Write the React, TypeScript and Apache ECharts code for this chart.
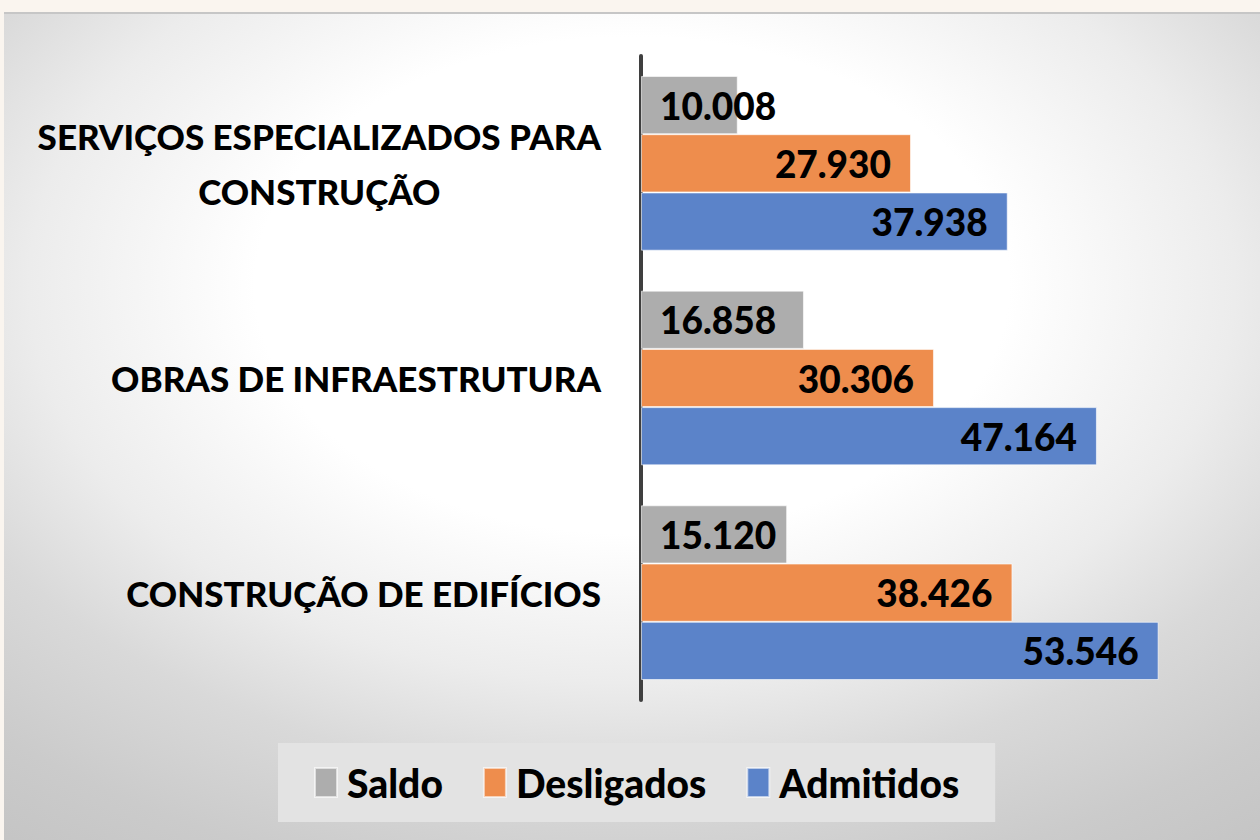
import React, { useEffect, useRef } from 'react';
import * as echarts from 'echarts';

// Categories listed bottom-to-top (category axis starts at the bottom)
const categories = [
  'CONSTRUÇÃO DE EDIFÍCIOS',
  'OBRAS DE INFRAESTRUTURA',
  'SERVIÇOS ESPECIALIZADOS PARA\nCONSTRUÇÃO',
];
const admitidos = [53546, 47164, 37938];
const desligados = [38426, 30306, 27930];
const saldo = [15120, 16858, 10008];
const legendOrder = ['Saldo', 'Desligados', 'Admitidos'];

const FONT = 'Lato, "Open Sans", sans-serif';
const fmt = (v: number) => String(v).replace(/\B(?=(\d{3})+(?!\d))/g, '.');

export default function App() {
  const ref = useRef<HTMLDivElement>(null);
  useEffect(() => {
    if (!ref.current) return;
    const chart = echarts.init(ref.current, null, { renderer: 'svg' });
    const barBorder = { borderColor: 'rgba(255,255,255,0.6)', borderWidth: 1 };
    const labelBase = {
      show: true,
      color: '#000',
      fontFamily: FONT,
      fontWeight: 900 as any,
      fontSize: 37,
      formatter: (p: any) => fmt(p.value),
    };
    chart.setOption({
      animation: false,
      graphic: [
        {
          type: 'rect',
          z: -10,
          silent: true,
          shape: { x: 4, y: 12, width: 1256, height: 828 },
          style: {
            fill: {
              type: 'radial',
              x: 0.5,
              y: 0.33,
              r: 1.0,
              colorStops: [
                { offset: 0, color: '#ffffff' },
                { offset: 0.3, color: '#ffffff' },
                { offset: 0.48, color: '#ececec' },
                { offset: 0.6, color: '#d9d9d9' },
                { offset: 0.74, color: '#cbcbcb' },
                { offset: 0.86, color: '#c3c3c3' },
                { offset: 1, color: '#bcbcbc' },
              ],
            },
          },
        },
        {
          type: 'line',
          z: -9,
          silent: true,
          shape: { x1: 4, y1: 13, x2: 1260, y2: 13 },
          style: { stroke: '#c6c6c6', lineWidth: 2 },
        },
      ],
      legend: {
        data: legendOrder,
        left: 278,
        top: 743,
        backgroundColor: '#e3e3e3',
        padding: [20, 36],
        itemGap: 40,
        itemWidth: 22,
        itemHeight: 29,
        icon: 'rect',
        textStyle: {
          fontFamily: FONT,
          fontWeight: 900,
          fontSize: 39,
          color: '#000',
          padding: [0, 0, 0, 5],
        },
      },
      grid: { left: 641, top: 56, bottom: 140, right: 39 },
      xAxis: {
        type: 'value',
        min: 0,
        max: 60000,
        show: false,
        splitLine: { show: false },
      },
      yAxis: {
        type: 'category',
        data: categories,
        axisTick: { show: false },
        axisLine: { show: true, lineStyle: { color: '#3f3f3f', width: 4 } },
        axisLabel: {
          margin: 40,
          formatter: (v: string) =>
            v
              .split('\n')
              .map((l) => `{c|${l}}`)
              .join('\n'),
          rich: {
            c: {
              align: 'center',
              fontFamily: FONT,
              fontWeight: 900,
              fontSize: 35,
              lineHeight: 55,
              color: '#000',
            },
          },
        },
      },
      series: [
        {
          name: 'Saldo',
          type: 'bar',
          data: saldo,
          barGap: '0%',
          barCategoryGap: '18.6%',
          itemStyle: { color: '#adadad', ...barBorder },
          label: { ...labelBase, position: 'insideLeft', distance: 19 },
        },
        {
          name: 'Desligados',
          type: 'bar',
          data: desligados,
          itemStyle: { color: '#ee8d4d', ...barBorder },
          label: { ...labelBase, position: 'insideRight', distance: 20 },
        },
        {
          name: 'Admitidos',
          type: 'bar',
          data: admitidos,
          itemStyle: { color: '#5b83c9', ...barBorder },
          label: { ...labelBase, position: 'insideRight', distance: 20 },
        },
      ],
    });
    return () => chart.dispose();
  }, []);
  return (
    <div
      style={{
        position: 'fixed',
        left: 0,
        top: 0,
        width: 1260,
        height: 840,
        background: '#faf5ef',
      }}
    >
      <div ref={ref} style={{ width: 1260, height: 840 }} />
    </div>
  );
}
